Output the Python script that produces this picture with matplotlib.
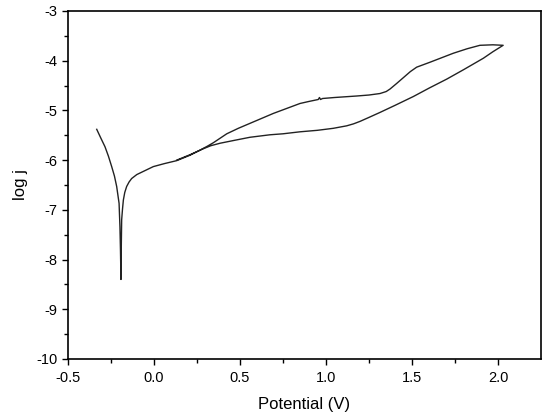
import matplotlib
matplotlib.use("Agg")
import matplotlib.pyplot as plt

plt.rcParams['font.family'] = ['Liberation Sans', 'DejaVu Sans']

# forward scan (upper branch)
fwd_x = [-0.333, -0.31, -0.285, -0.265, -0.246, -0.23, -0.217, -0.203, -0.198, -0.195, -0.192,
         -0.190, -0.188, -0.183, -0.178, -0.17, -0.159, -0.145, -0.13, -0.10, -0.052, -0.004, 0.06,
         0.132, 0.21, 0.267, 0.31, 0.345, 0.384, 0.423, 0.49, 0.558, 0.694, 0.849, 0.90, 0.955, 0.962,
         0.968, 0.98, 1.05, 1.178, 1.25, 1.314, 1.35, 1.372, 1.41, 1.45, 1.49, 1.527, 1.605, 1.74,
         1.82, 1.895, 1.97, 2.03]
fwd_y = [-5.38, -5.55, -5.73, -5.92, -6.13, -6.32, -6.53, -6.87, -7.34, -7.8, -8.4,
         -7.7, -7.2, -6.98, -6.8, -6.65, -6.53, -6.44, -6.37, -6.29, -6.21, -6.13, -6.07,
         -6.01, -5.9, -5.8, -5.72, -5.65, -5.56, -5.47, -5.36, -5.26, -5.06, -4.86, -4.82, -4.78, -4.74,
         -4.78, -4.76, -4.74, -4.71, -4.69, -4.66, -4.62, -4.57, -4.46, -4.34, -4.22, -4.13, -4.03,
         -3.85, -3.76, -3.69, -3.68, -3.69]

# reverse scan (lower branch)
rev_x = [1.97, 1.915, 1.80, 1.702, 1.60, 1.508, 1.40, 1.314, 1.25, 1.198, 1.16, 1.12, 1.042, 0.95,
         0.849, 0.75, 0.674, 0.558, 0.47, 0.384, 0.33, 0.287, 0.21, 0.132]
rev_y = [-3.82, -3.95, -4.18, -4.37, -4.55, -4.72, -4.9, -5.04, -5.14, -5.22, -5.27, -5.31, -5.36, -5.40,
         -5.43, -5.47, -5.49, -5.54, -5.60, -5.66, -5.71, -5.77, -5.89, -6.0]

fig = plt.figure(figsize=(5.5, 4.13), dpi=100)
ax = fig.add_axes([68/550, 1-359/413, (541-68)/550, (359-11)/413])

ax.plot(fwd_x + rev_x, fwd_y + rev_y, color='#222222', lw=1.0)

ax.set_xlim(-0.5, 2.25)
ax.set_ylim(-10, -3)
ax.set_xticks([-0.5, 0.0, 0.5, 1.0, 1.5, 2.0])
ax.set_xticklabels(['-0.5', '0.0', '0.5', '1.0', '1.5', '2.0'])
ax.set_xticks([-0.25, 0.25, 0.75, 1.25, 1.75], minor=True)
ax.set_yticks(list(range(-10, -2)))
ax.set_yticklabels([str(v) for v in range(-10, -2)])
ax.set_yticks([v + 0.5 for v in range(-10, -3)], minor=True)
ax.tick_params(which='major', direction='out', length=4, width=1, labelsize=10.5, top=False, right=False)
ax.tick_params(axis='x', which='major', pad=5)
ax.tick_params(which='minor', direction='out', length=3, width=1, top=False, right=False)
for s in ax.spines.values():
    s.set_linewidth(1.2)

ax.set_xlabel('Potential (V)', fontsize=12, labelpad=8)
ax.set_ylabel('log j', fontsize=12, labelpad=6)

fig.savefig('out.png', dpi=100)
